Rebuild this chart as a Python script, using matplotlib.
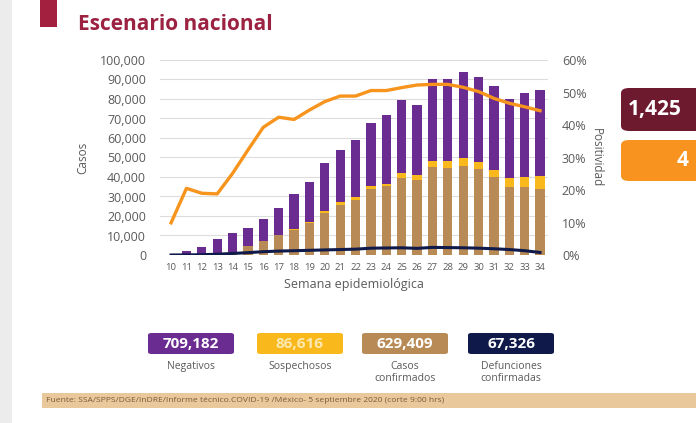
import matplotlib.pyplot as plt
from matplotlib.patches import Rectangle, FancyBboxPatch
from matplotlib.ticker import FuncFormatter, MultipleLocator

# ==========================
# DATA
# ==========================
weeks = list(range(10, 35))
confirmados = [0, 100, 400, 900, 1500, 4400, 7000, 10000, 12800, 16300,
               21500, 25800, 28400, 34000, 35200, 39500, 38500, 45000,
               44600, 45800, 44100, 40200, 35000, 34700, 33700]
sospechosos = [0, 0, 0, 100, 200, 300, 400, 500, 600, 800,
               900, 1200, 1300, 1300, 1300, 2400, 2500, 3400,
               3700, 4100, 3800, 3400, 4300, 5500, 7000]
negativos = [200, 1900, 3900, 7200, 9400, 9300, 10900, 13500, 17900, 20500,
             24900, 26800, 29300, 32600, 35100, 37600, 35800, 41900,
             42000, 43800, 43600, 43100, 40500, 43000, 43900]
defunciones = [0, 50, 150, 400, 800, 1200, 1700, 2000, 2200, 2400,
               2600, 2800, 3000, 3500, 3600, 3700, 3400, 3900,
               3800, 3700, 3500, 3200, 2800, 2200, 1300]
positividad = [9.9, 20.5, 19.0, 18.8, 25.1, 32.3, 39.3, 42.4, 41.7, 44.6,
               47.2, 48.9, 48.9, 50.6, 50.6, 51.5, 52.3, 52.5,
               52.5, 51.6, 50.3, 48.2, 46.7, 45.6, 44.4]

totales = ["709,182", "86,616", "629,409", "67,326"]
totales_labels = ["Negativos", "Sospechosos", "Casos\nconfirmados", "Defunciones\nconfirmadas"]

# ==========================
# STYLE
# ==========================
PURPLE = "#6b2c91"
YELLOW = "#f9b81b"
BROWN = "#b88a56"
NAVY = "#0f1a4a"
ORANGE = "#f7941d"
MAROON = "#9c2241"
TXT = "#5a5a5a"

plt.rcParams["font.family"] = ["Open Sans", "DejaVu Sans"]

fig = plt.figure(figsize=(6.96, 4.23), dpi=100)
fig.patch.set_facecolor("white")

# left grey strip and maroon tab
fig.add_artist(Rectangle((0, 0), 12 / 696, 1, transform=fig.transFigure,
                         facecolor="#ececec", edgecolor="none"))
fig.add_artist(Rectangle((40 / 696, 1 - 27 / 423), 17 / 696, 27 / 423,
                         transform=fig.transFigure, facecolor="#a3203f",
                         edgecolor="none"))

# title
fig.text(78 / 696, 1 - 25 / 423, "Escenario nacional", fontsize=15,
         fontweight="bold", color=MAROON, va="center", ha="left")

# ==========================
# MAIN CHART
# ==========================
ax = fig.add_axes([160 / 696, 168 / 423, 388 / 696, 195 / 423])
ax.set_facecolor("none")

bottom2 = [c + s for c, s in zip(confirmados, sospechosos)]
ax.bar(weeks, confirmados, width=0.6, color=BROWN, zorder=2)
ax.bar(weeks, sospechosos, width=0.6, bottom=confirmados, color=YELLOW, zorder=2)
ax.bar(weeks, negativos, width=0.6, bottom=bottom2, color=PURPLE, zorder=2)
ax.plot(weeks, defunciones, color=NAVY, linewidth=2.2, zorder=3)

ax.set_xlim(9.28, 34.52)
ax.set_ylim(0, 100000)
ax.yaxis.set_major_locator(MultipleLocator(10000))
ax.yaxis.set_major_formatter(FuncFormatter(lambda v, p: f"{int(v):,}"))
ax.set_xticks(weeks)
ax.grid(axis="y", color="#dddddd", linewidth=0.8, zorder=0)
ax.set_axisbelow(True)
for s in ax.spines.values():
    s.set_visible(False)
ax.tick_params(axis="y", length=0, labelsize=9, labelcolor=TXT, pad=10)
ax.tick_params(axis="x", length=0, labelsize=6.8, labelcolor=TXT, pad=6)
ax.set_ylabel("Casos", fontsize=8.5, color=TXT, labelpad=8)
ax.set_xlabel("Semana epidemiológica", fontsize=9, color=TXT, labelpad=4)

ax2 = ax.twinx()
ax2.plot(weeks, positividad, color=ORANGE, linewidth=2.4, zorder=4)
ax2.set_ylim(0, 60)
ax2.yaxis.set_major_locator(MultipleLocator(10))
ax2.yaxis.set_major_formatter(FuncFormatter(lambda v, p: f"{int(v)}%"))
for s in ax2.spines.values():
    s.set_visible(False)
ax2.tick_params(axis="y", length=0, labelsize=9, labelcolor=TXT, pad=10)
ax2.set_ylabel("Positividad", fontsize=8.5, color=TXT, rotation=270, labelpad=12)

# ==========================
# RIGHT CUT-OFF BOXES
# ==========================
fig.add_artist(FancyBboxPatch((621 / 696, 1 - 131 / 423), 90 / 696, 43 / 423,
                              boxstyle="round,pad=0,rounding_size=0.012",
                              transform=fig.transFigure, facecolor="#6e1a2e",
                              edgecolor="none"))
fig.text(628 / 696, 1 - 109 / 423, "1,425", fontsize=15, fontweight="bold",
         color="white", va="center", ha="left")
fig.add_artist(FancyBboxPatch((621 / 696, 1 - 181 / 423), 90 / 696, 41 / 423,
                              boxstyle="round,pad=0,rounding_size=0.012",
                              transform=fig.transFigure, facecolor="#f7931e",
                              edgecolor="none"))
fig.text(677 / 696, 1 - 160 / 423, "4", fontsize=15, fontweight="bold",
         color="white", va="center", ha="left")

# ==========================
# BOTTOM SUMMARY BOXES
# ==========================
box_colors = [PURPLE, YELLOW, BROWN, NAVY]
box_text = ["white", "#fde9b0", "white", "white"]
box_x = [148, 257, 362, 468]
for x0, col, tc, val, lab in zip(box_x, box_colors, box_text, totales, totales_labels):
    fig.add_artist(FancyBboxPatch((x0 / 696, 1 - 354 / 423), 86 / 696, 21 / 423,
                                  boxstyle="round,pad=0,rounding_size=0.005",
                                  transform=fig.transFigure, facecolor=col,
                                  edgecolor="none"))
    fig.text((x0 + 43) / 696, 1 - 343.5 / 423, val, fontsize=11, fontweight="bold",
             color=tc, ha="center", va="center")
    fig.text((x0 + 43) / 696, 1 - 361 / 423, lab, fontsize=7.5, color=TXT,
             ha="center", va="top", linespacing=1.1)

# ==========================
# FOOTER
# ==========================
fig.add_artist(Rectangle((42 / 696, 1 - 408 / 423), 654 / 696, 15 / 423,
                         transform=fig.transFigure, facecolor="#e9c99c",
                         edgecolor="none"))
fig.text(46 / 696, 1 - 400.5 / 423,
         "Fuente: SSA/SPPS/DGE/InDRE/Informe técnico.COVID-19 /México- 5 septiembre 2020 (corte 9:00 hrs)",
         fontsize=6.1, color="#7a5a3a", ha="left", va="center")

plt.savefig("out.png", dpi=100)
plt.close()
